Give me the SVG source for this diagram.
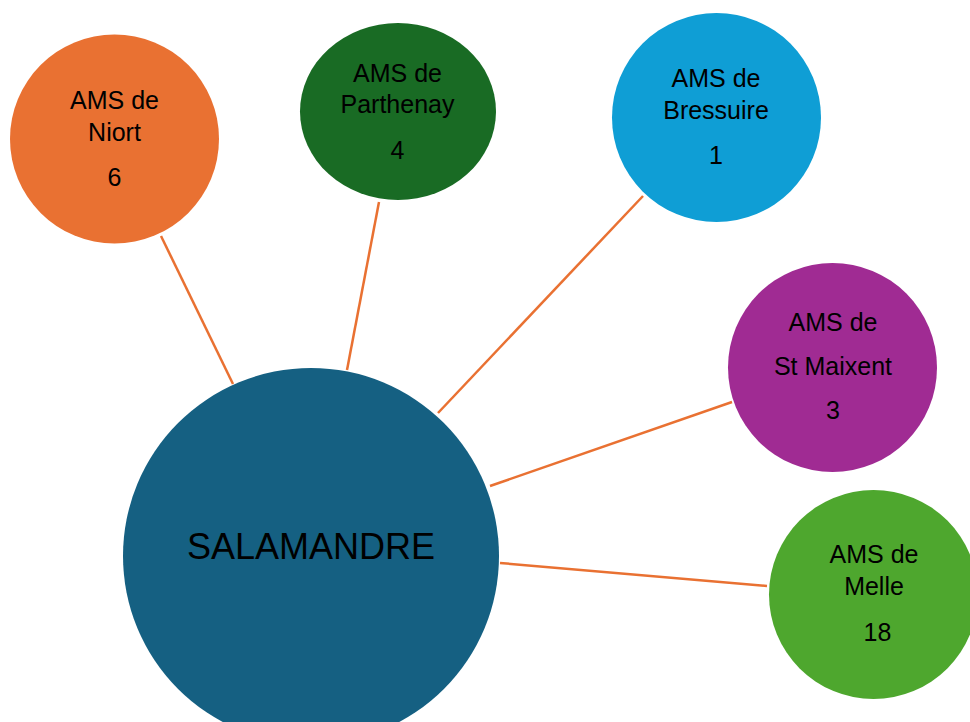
<svg xmlns="http://www.w3.org/2000/svg" width="970" height="722" viewBox="0 0 970 722">
<style>
.lbl{font-family:"Liberation Sans",Arial,sans-serif;font-size:25px;fill:#000;text-anchor:middle}
.big{font-family:"Liberation Sans",Arial,sans-serif;font-size:36px;fill:#000;text-anchor:middle}
.conn line{stroke:#E97132;stroke-width:2.5;fill:none}
</style>
<rect width="970" height="722" fill="#fff"/>
<g id="connectors" class="conn">
<line x1="161" y1="236" x2="233" y2="384"/>
<line x1="379" y1="202" x2="347" y2="370"/>
<line x1="643" y1="196" x2="438" y2="413"/>
<line x1="732" y1="402" x2="490" y2="486"/>
<line x1="767" y1="586" x2="500" y2="563"/>
</g>
<g id="niort">
<circle cx="114.5" cy="139" r="104.5" fill="#E97132"/>
<text class="lbl" x="114.5" y="109">AMS de</text>
<text class="lbl" x="114.5" y="141">Niort</text>
<text class="lbl" x="114.5" y="186">6</text>
</g>
<g id="parthenay">
<ellipse cx="398" cy="111.5" rx="98" ry="88.5" fill="#196B24"/>
<text class="lbl" x="397.5" y="82">AMS de</text>
<text class="lbl" x="397.5" y="113">Parthenay</text>
<text class="lbl" x="397.5" y="159">4</text>
</g>
<g id="bressuire">
<circle cx="716.5" cy="117.5" r="104.5" fill="#0F9ED5"/>
<text class="lbl" x="716" y="87">AMS de</text>
<text class="lbl" x="716" y="119">Bressuire</text>
<text class="lbl" x="716" y="164">1</text>
</g>
<g id="stmaixent">
<circle cx="832.5" cy="367.5" r="104.5" fill="#A02B93"/>
<text class="lbl" x="833" y="331">AMS de</text>
<text class="lbl" x="833" y="375">St Maixent</text>
<text class="lbl" x="833" y="419">3</text>
</g>
<g id="melle">
<circle cx="873.5" cy="594.5" r="104.5" fill="#4EA72E"/>
<text class="lbl" x="874" y="563">AMS de</text>
<text class="lbl" x="874" y="595">Melle</text>
<text class="lbl" x="877.5" y="641">18</text>
</g>
<g id="salamandre">
<circle cx="311" cy="556" r="188" fill="#156082"/>
<text class="big" x="311" y="559">SALAMANDRE</text>
</g>
</svg>
